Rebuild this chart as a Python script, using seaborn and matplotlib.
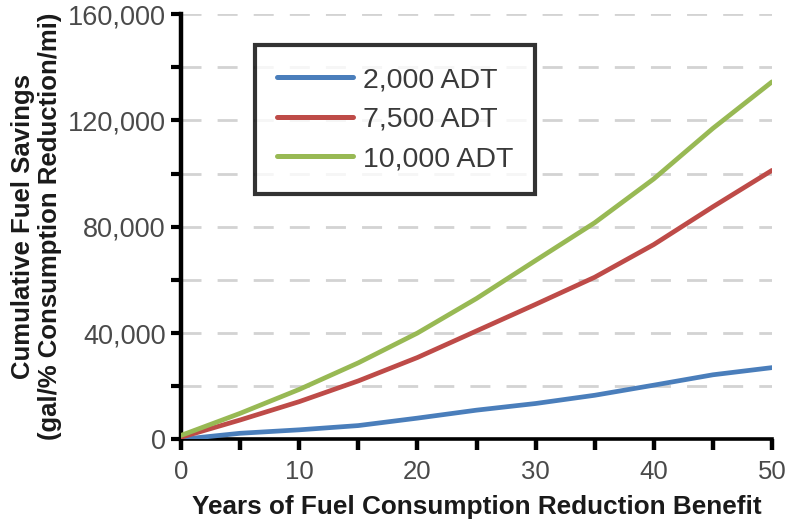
import matplotlib
matplotlib.use("Agg")
import matplotlib.pyplot as plt
import matplotlib.ticker as mticker
import numpy as np
import pandas as pd
import seaborn as sns

# values (5-year steps)
years = [0, 5, 10, 15, 20, 25, 30, 35, 40, 45, 50]
adt_2000 = [0, 2300, 3600, 5200, 8000, 11000, 13500, 16600, 20400, 24300, 27000]
adt_7500 = [800, 7300, 14200, 22000, 30800, 40800, 50800, 61000, 73300, 87500, 101200]
adt_10000 = [1500, 9800, 18800, 28800, 40000, 53000, 67300, 81500, 98000, 117000, 134500]
series_names = ["2,000 ADT", "7,500 ADT", "10,000 ADT"]
colors = ["#4A7EBB", "#BE4B48", "#98B954"]

df = pd.DataFrame({
    "year": years * 3,
    "savings": adt_2000 + adt_7500 + adt_10000,
    "series": np.repeat(series_names, len(years)),
})

sns.set_style("white")
plt.rcParams["font.family"] = ["Liberation Sans", "DejaVu Sans"]

fig = plt.figure(figsize=(7.88, 5.2), dpi=100)
ax = fig.add_axes([0.2297, 0.155, 0.750, 0.818])

sns.lineplot(data=df, x="year", y="savings", hue="series", hue_order=series_names,
             palette=colors, linewidth=3.4, ax=ax, zorder=3)

ax.set_xlim(0, 50)
ax.set_ylim(0, 160000)

# dashed grid at every 20,000
for v in range(20000, 160001, 20000):
    ax.axhline(v, color="#d3d3d3", linewidth=2.0, dashes=(7.2, 5.8), zorder=1)

ax.yaxis.set_major_locator(mticker.MultipleLocator(40000))
ax.yaxis.set_minor_locator(mticker.MultipleLocator(20000))
ax.xaxis.set_major_locator(mticker.MultipleLocator(10))
ax.xaxis.set_minor_locator(mticker.MultipleLocator(5))
ax.yaxis.set_major_formatter(mticker.FuncFormatter(lambda v, p: f"{v:,.0f}"))

for side in ["top", "right"]:
    ax.spines[side].set_visible(False)
ax.spines["left"].set_linewidth(3.2)
ax.spines["bottom"].set_linewidth(2.6)
ax.spines["left"].set_color("black")
ax.spines["bottom"].set_color("black")

ax.tick_params(axis="y", which="both", direction="out", length=7, width=3, left=True,
               colors="black", labelcolor="#4a4a4a", labelsize=19.5, pad=4)
ax.tick_params(axis="x", which="both", direction="out", length=8, width=3.2, bottom=True,
               colors="black", labelcolor="#4a4a4a", labelsize=18.5, pad=7)

ax.set_xlabel("Years of Fuel Consumption Reduction Benefit", fontsize=18.8,
              fontweight="bold", color="#1a1a1a", va="center")
ax.xaxis.set_label_coords(0.5, -0.158)
ax.set_ylabel("Cumulative Fuel Savings\n(gal/% Consumption Reduction/mi)", fontsize=18.5,
              fontweight="bold", color="#1a1a1a", va="center", linespacing=1.15)
ax.yaxis.set_label_coords(-0.245, 0.5)

leg = ax.legend(loc="upper left", bbox_to_anchor=(0.1246, 0.927), borderaxespad=0,
                fontsize=20.5, frameon=True, fancybox=False, handlelength=2.67,
                handletextpad=0.35, labelspacing=0.47, borderpad=0.78)
leg.get_frame().set_edgecolor("black")
leg.get_frame().set_linewidth(3)
for line in leg.get_lines():
    line.set_linewidth(3.6)
for t in leg.get_texts():
    t.set_color("#3a3a3a")

fig.savefig("out.png", dpi=100)
